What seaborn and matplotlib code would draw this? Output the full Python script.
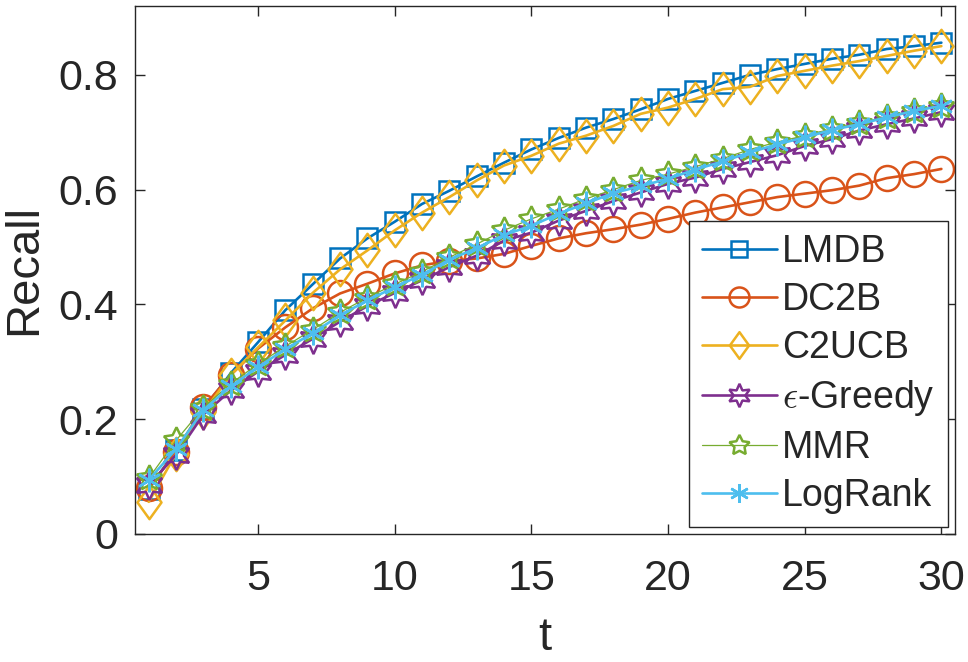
import numpy as np
import seaborn as sns
import matplotlib
matplotlib.use("Agg")
import matplotlib.pyplot as plt
from matplotlib.path import Path

t = list(range(1, 31))

lmdb = [0.078, 0.146, 0.217, 0.280, 0.334, 0.390, 0.435, 0.480, 0.515, 0.544,
        0.575, 0.598, 0.623, 0.647, 0.670, 0.690, 0.708, 0.723, 0.740, 0.758,
        0.772, 0.786, 0.800, 0.810, 0.819, 0.828, 0.835, 0.845, 0.850, 0.856]
dc2b = [0.080, 0.143, 0.221, 0.277, 0.323, 0.360, 0.393, 0.419, 0.436, 0.454,
        0.468, 0.476, 0.480, 0.488, 0.502, 0.515, 0.524, 0.531, 0.539, 0.549,
        0.560, 0.569, 0.578, 0.587, 0.593, 0.599, 0.607, 0.620, 0.627, 0.636]
c2ucb = [0.056, 0.140, 0.212, 0.277, 0.325, 0.372, 0.420, 0.461, 0.494, 0.529,
         0.560, 0.587, 0.616, 0.642, 0.659, 0.680, 0.694, 0.711, 0.732, 0.743,
         0.758, 0.775, 0.779, 0.798, 0.807, 0.816, 0.824, 0.833, 0.842, 0.850]
egreedy = [0.085, 0.138, 0.208, 0.250, 0.283, 0.312, 0.340, 0.370, 0.397, 0.420,
           0.442, 0.465, 0.485, 0.511, 0.525, 0.546, 0.563, 0.580, 0.595, 0.610,
           0.621, 0.636, 0.648, 0.660, 0.676, 0.688, 0.703, 0.714, 0.724, 0.735]
mmr = [0.097, 0.163, 0.220, 0.262, 0.296, 0.327, 0.356, 0.386, 0.412, 0.435,
       0.457, 0.482, 0.505, 0.529, 0.549, 0.566, 0.584, 0.600, 0.616, 0.627,
       0.640, 0.654, 0.670, 0.683, 0.694, 0.706, 0.716, 0.727, 0.737, 0.746]
lograng = [0.094, 0.148, 0.216, 0.257, 0.291, 0.322, 0.350, 0.381, 0.407, 0.430,
           0.452, 0.478, 0.498, 0.521, 0.537, 0.558, 0.576, 0.594, 0.606, 0.619,
           0.635, 0.649, 0.665, 0.679, 0.691, 0.704, 0.714, 0.726, 0.737, 0.746]

names = ["LMDB", "DC2B", "C2UCB", r"$\epsilon$-Greedy", "MMR", "LogRank"]
series = [lmdb, dc2b, c2ucb, egreedy, mmr, lograng]
colors = ["#0072BD", "#D95319", "#EDB120", "#7E2F8E", "#77AC30", "#4DBEEE"]

# matlab style tall diamond
diamond = Path([(0, 1), (0.72, 0), (0, -1), (-0.72, 0), (0, 1)],
               [Path.MOVETO, Path.LINETO, Path.LINETO, Path.LINETO, Path.CLOSEPOLY])
markers = ["s", "o", diamond, (6, 1, 0), (5, 1, 0), (6, 2, 0)]
msizes = [14, 18, 24, 21, 19, 17]
lwidths = [1.9, 1.9, 1.9, 1.9, 0.9, 1.9]

sns.set_style("ticks")
plt.rcParams["font.family"] = ["Liberation Sans", "DejaVu Sans"]
plt.rcParams["mathtext.fontset"] = "cm"

fig = plt.figure(figsize=(9.68, 6.62), dpi=100)
ax = fig.add_axes([0.1395, 0.1934, 0.8471, 0.7976])

for name, vals, c, m, ms, lw in zip(names, series, colors, markers, msizes, lwidths):
    sns.lineplot(x=t, y=vals, ax=ax, color=c, marker=m, markersize=ms,
                 markerfacecolor="none", markeredgecolor=c, markeredgewidth=1.8,
                 linewidth=lw, label=name)

ax.set_xlim(0.5, 30.5)
ax.set_ylim(0, 0.92)
ax.set_xticks([5, 10, 15, 20, 25, 30])
ax.set_yticks([0, 0.2, 0.4, 0.6, 0.8])
ax.set_yticklabels(["0", "0.2", "0.4", "0.6", "0.8"])
ax.tick_params(direction="in", length=7, width=1, colors="#262626",
               labelsize=31, top=True, right=True)
ax.tick_params(axis="x", pad=18)
ax.tick_params(axis="y", pad=12)
for sp in ax.spines.values():
    sp.set_color("#262626")
    sp.set_linewidth(1)

ax.set_xlabel("t", fontsize=34, color="#262626")
ax.set_ylabel("Recall", fontsize=34, color="#262626")
ax.xaxis.set_label_coords(0.5, -0.155)
ax.yaxis.set_label_coords(-0.108, 0.5)

leg = ax.legend(loc="lower right", bbox_to_anchor=(0.9915, 0.0133), borderaxespad=0,
                fontsize=27, fancybox=False, framealpha=1, edgecolor="#262626",
                handlelength=2.0, handletextpad=0.15, labelspacing=0.32,
                borderpad=0.35, markerscale=0.8)
leg.get_frame().set_linewidth(1)

fig.savefig("out.png", dpi=100)
